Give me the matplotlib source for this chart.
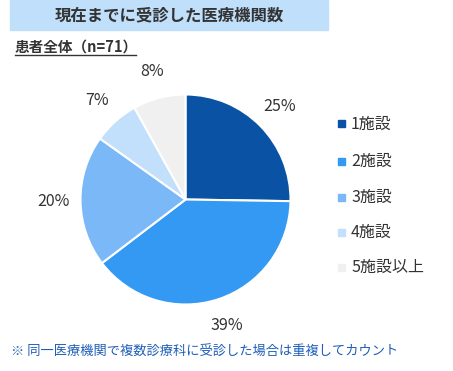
import numpy as np
import matplotlib.pyplot as plt
from matplotlib.patches import Rectangle
from matplotlib.lines import Line2D

plt.rcParams['font.family'] = ['Noto Sans CJK JP', 'DejaVu Sans']

# データ
labels = ['1施設', '2施設', '3施設', '4施設', '5施設以上']
values = [25, 39, 20, 7, 8]
colors = ['#0a52a4', '#3399f3', '#7ab8f8', '#c2dffc', '#f0f0f0']

W, H = 453, 371
fig = plt.figure(figsize=(W / 100, H / 100), dpi=100)

def fx(x):
    return x / W

def fy(y):
    return 1 - y / H

# タイトルの箱
fig.patches.append(Rectangle((fx(10), fy(30)), fx(318), 30 / H,
                             transform=fig.transFigure, color='#bfdffb', zorder=0))
fig.text(fx(169), fy(15), '現在までに受診した医療機関数', ha='center', va='center',
         fontsize=11.8, fontweight='bold', color='#333333')

# サブタイトル + 下線
fig.text(fx(15), fy(47), '患者全体（n=71）', ha='left', va='center',
         fontsize=10.5, fontweight='bold', color='#333333')
fig.lines.append(Line2D([fx(15), fx(136)], [fy(55), fy(55)],
                        transform=fig.transFigure, color='#333333', lw=1))

# 円グラフ
cx, cy, r = 185.5, 199.5, 105
ax = fig.add_axes([fx(cx - r), fy(cy + r), 2 * r / W, 2 * r / H])
wedges, texts = ax.pie(values, colors=colors, startangle=90, counterclock=False,
                       wedgeprops=dict(edgecolor='white', linewidth=1.5))
total = sum(values)
ang = 90
for v in values:
    mid = ang - v / total * 360 / 2
    ang -= v / total * 360
    x = 1.26 * np.cos(np.radians(mid))
    y = 1.26 * np.sin(np.radians(mid))
    ax.text(x, y, f'{v}%', ha='center', va='center', fontsize=11.5, color='#333333')
ax.set_xlim(-1, 1)
ax.set_ylim(-1, 1)
ax.set_aspect('equal')
ax.axis('off')

# 凡例
ys = [124, 161, 197, 232, 267]
for lab, col, y in zip(labels, colors, ys):
    fig.patches.append(Rectangle((fx(338), fy(y + 3.5)), fx(7), 7 / H,
                                 transform=fig.transFigure, color=col))
    fig.text(fx(351), fy(y), lab, ha='left', va='center', fontsize=11.5, color='#333333')

# 注記
fig.text(fx(11), fy(352), '※ 同一医療機関で複数診療科に受診した場合は重複してカウント',
         ha='left', va='center', fontsize=9.5, color='#1f5fb8')

fig.savefig('out.png', dpi=100, facecolor='white')
